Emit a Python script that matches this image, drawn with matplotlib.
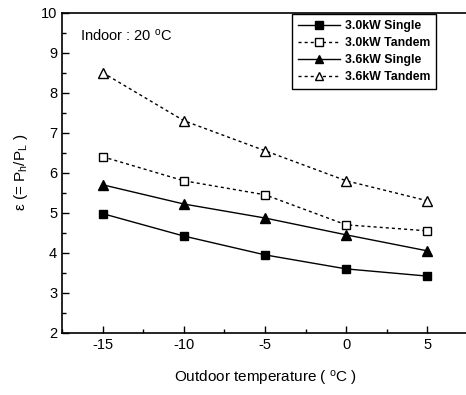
import matplotlib
matplotlib.use("Agg")
import matplotlib.pyplot as plt
from matplotlib.ticker import MultipleLocator

plt.rcParams['font.family'] = ['Liberation Sans', 'DejaVu Sans']
plt.rcParams['mathtext.fontset'] = 'custom'
plt.rcParams['mathtext.rm'] = 'Liberation Sans'
plt.rcParams['mathtext.it'] = 'Liberation Sans'
plt.rcParams['axes.unicode_minus'] = False

temps = [-15, -10, -5, 0, 5]
single_30 = [4.98, 4.42, 3.95, 3.60, 3.42]
tandem_30 = [6.40, 5.80, 5.45, 4.70, 4.55]
single_36 = [5.70, 5.22, 4.87, 4.45, 4.05]
tandem_36 = [8.50, 7.30, 6.55, 5.80, 5.30]
labels = ['3.0kW Single', '3.0kW Tandem', '3.6kW Single', '3.6kW Tandem']

fig = plt.figure(figsize=(4.66, 3.95), dpi=100)
ax = fig.add_axes([62/466, 62/395, (468-62)/466, (333-12.5)/395])

dash = (0, (2.2, 2.2))
ax.plot(temps, single_30, color='black', lw=1.0, marker='s', ms=6.3, mfc='black', mec='black', label=labels[0])
ax.plot(temps, tandem_30, color='black', lw=1.0, ls=dash, marker='s', ms=6.3, mfc='white', mec='black', mew=1.0, label=labels[1])
ax.plot(temps, single_36, color='black', lw=1.0, marker='^', ms=7.2, mfc='black', mec='black', label=labels[2])
ax.plot(temps, tandem_36, color='black', lw=1.0, ls=dash, marker='^', ms=7.2, mfc='white', mec='black', mew=1.0, label=labels[3])

ax.set_xlim(-17.5, 7.5)
ax.set_ylim(2, 10)
ax.xaxis.set_major_locator(MultipleLocator(5))
ax.xaxis.set_minor_locator(MultipleLocator(2.5))
ax.yaxis.set_major_locator(MultipleLocator(1))
ax.yaxis.set_minor_locator(MultipleLocator(0.5))
ax.tick_params(which='both', direction='in', top=False, right=False, labelsize=10.5, width=1.0)
ax.tick_params(which='major', length=5)
ax.tick_params(which='minor', length=3)
for s in ax.spines.values():
    s.set_linewidth(1.2)

ax.set_xlabel('Outdoor temperature ( $^{\\rm o}$C )', fontsize=11, labelpad=12)
ax.set_ylabel('ε (= P$_h$/P$_L$ )', fontsize=11, labelpad=8)

ax.text(-16.4, 9.43, 'Indoor : 20 $^{\\rm o}$C', fontsize=10.5, va='center', ha='left')

leg = ax.legend(loc='upper right', bbox_to_anchor=(436/466, 1 - 14/395), bbox_transform=fig.transFigure,
                fancybox=False, edgecolor='black', framealpha=1, numpoints=1, handlelength=3.4,
                prop={'weight': 'bold', 'size': 8.8}, borderpad=0.5, labelspacing=0.4, handletextpad=0.4,
                markerscale=0.85, borderaxespad=0)
leg.get_frame().set_linewidth(1.0)

fig.savefig('out.png', dpi=100)
